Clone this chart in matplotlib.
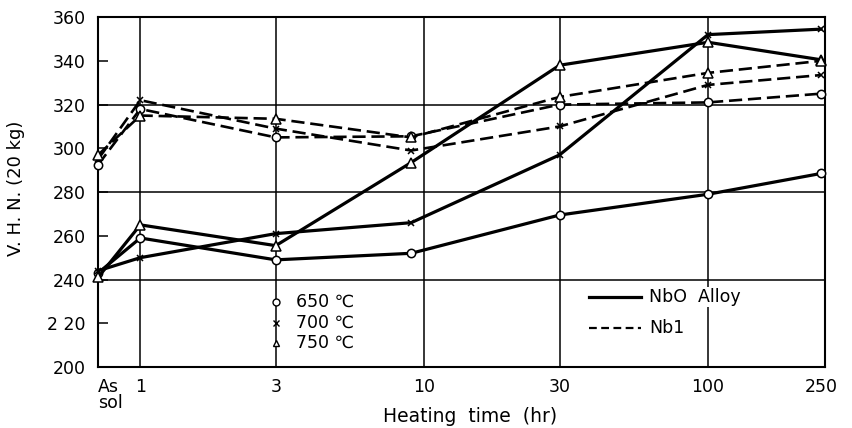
"""
Hardness vs. heating time for NbO and Nb1 alloys (650/700/750 C)
"""

import matplotlib.pyplot as plt

plt.rcParams['font.family'] = ['DejaVu Sans']

# heating time positions (hr); first entry is the "As sol" state at the left edge
times = [0.71, 1, 3, 9, 30, 100, 250]
x_ticks = [0.71, 1, 3, 10, 30, 100, 250]
x_tick_labels = ['As\nsol', '1', '3', '10', '30', '100', '250']
y_ticks = [200, 220, 240, 260, 280, 300, 320, 340, 360]
y_tick_labels = ['200', '2 20', '240', '260', '280', '300', '320', '340', '360']

# NbO alloy (solid)
nb0_650 = [243, 259, 249, 252, 269.5, 279, 288.5]
nb0_700 = [244, 250, 261, 266, 297, 352, 354.5]
nb0_750 = [241, 265, 255.5, 293.5, 338, 348.5, 340.5]

# Nb1 alloy (dashed)
nb1_650 = [292.5, 318, 305, 305.5, 320, 321, 325]
nb1_700 = [295, 322, 309, 299, 310, 329, 333.5]
nb1_750 = [297, 315, 313.5, 305, 323.5, 334.5, 340]

temp_labels = ['650 \u2103', '700 \u2103', '750 \u2103']
markers = ['o', 'x', '^']
marker_sizes = [6, 5, 7]


def px_to_val(y_px):
    # reference pixel row -> hardness value (used only for the key positions)
    return 360 - (y_px - 17) / 2.1875


def create_visualization():
    fig = plt.figure(figsize=(8.53, 4.28), dpi=100)
    ax = fig.add_axes([0.115, 0.1425, 0.852, 0.8175])
    ax.set_xscale('log')
    ax.set_xlim(0.71, 258)
    ax.set_ylim(200, 360)

    # grid lines
    for v in [240, 280, 320]:
        ax.axhline(v, color='black', lw=1.1, zorder=1)
    for t in [1, 3, 10, 30, 100]:
        ax.axvline(t, color='black', lw=1.1, zorder=1)

    solid = [nb0_650, nb0_700, nb0_750]
    dashed = [nb1_650, nb1_700, nb1_750]
    for vals, m, ms in zip(solid, markers, marker_sizes):
        ax.plot(times, vals, color='black', lw=2.3, marker=m, ms=ms,
                mfc='white', mec='black', mew=1.1, zorder=3, clip_on=False)
    for vals, m, ms in zip(dashed, markers, marker_sizes):
        ax.plot(times, vals, color='black', lw=1.9, ls=(0, (5, 2.2)), marker=m, ms=ms,
                mfc='white', mec='black', mew=1.1, zorder=3, clip_on=False)

    # temperature key
    for i, (lab, m) in enumerate(zip(temp_labels, markers)):
        y = px_to_val(302 + 20.5 * i)
        ax.plot([3], [y], marker=m, ms=5, mfc='white', mec='black', mew=1.0,
                ls='none', zorder=4)
        ax.text(3.55, y, lab, fontsize=12.5, va='center', ha='left', zorder=4,
                bbox=dict(facecolor='white', edgecolor='none', pad=1))

    # alloy key
    y_a = px_to_val(297)
    y_b = px_to_val(328)
    ax.plot([38, 58], [y_a, y_a], color='black', lw=2.3, zorder=4)
    ax.plot([38, 58], [y_b, y_b], color='black', lw=1.6, ls=(0, (3.5, 2)), zorder=4)
    ax.text(62, y_a, 'NbO  Alloy', fontsize=12.5, va='center', ha='left', zorder=4,
            bbox=dict(facecolor='white', edgecolor='none', pad=1))
    ax.text(62, y_b, 'Nb1', fontsize=12.5, va='center', ha='left', zorder=4,
            bbox=dict(facecolor='white', edgecolor='none', pad=1))

    ax.set_xticks(x_ticks)
    ax.set_xticklabels(x_tick_labels, fontsize=12.5, linespacing=0.85)
    ax.xaxis.set_minor_locator(plt.NullLocator())
    ax.get_xticklabels()[0].set_horizontalalignment('left')
    ax.tick_params(axis='x', length=0, pad=8)
    ax.set_yticks(y_ticks)
    ax.set_yticklabels(y_tick_labels, fontsize=12.5)
    ax.tick_params(axis='y', direction='in', length=7, width=1.1, pad=9)

    for s in ax.spines.values():
        s.set_linewidth(1.5)

    fig.text(470 / 853, 1 - 416 / 428, 'Heating  time  (hr)', fontsize=13.5,
             ha='center', va='center')
    fig.text(16 / 853, 1 - 188 / 428, 'V. H. N. (20 kg)', fontsize=13,
             ha='center', va='center', rotation=90)

    plt.savefig('out.png', dpi=100, facecolor='white')


def main():
    create_visualization()


if __name__ == "__main__":
    main()
